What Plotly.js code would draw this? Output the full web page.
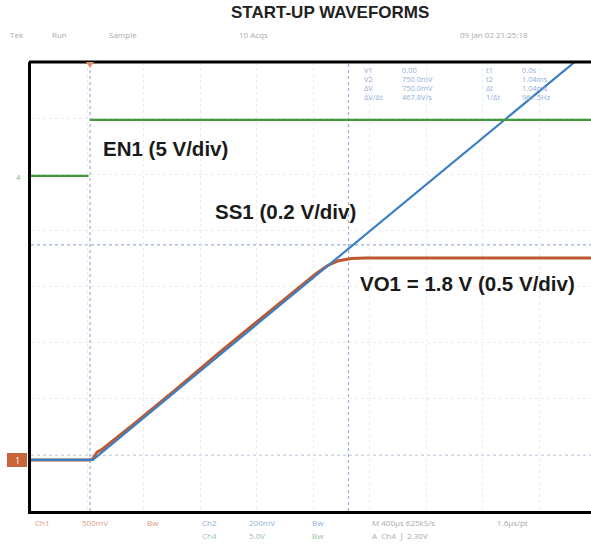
<!DOCTYPE html>
<html>
<head>
<meta charset="utf-8">
<script src="https://cdn.plot.ly/plotly-3.0.1.min.js"></script>
<style>
html,body{margin:0;padding:0;background:#fff;}
#chart{width:591px;height:550px;}
</style>
</head>
<body>
<div id="chart"></div>
<script>
// ---- Data (time in ms, values in volts) ----
const vo1Time = [-0.418, -0.30, -0.15, 0.00, 0.02, 0.05, 0.08, 0.30, 0.60, 0.90, 1.20, 1.50, 1.60, 1.68, 1.76, 1.85, 1.95, 2.40, 3.00, 3.547];
const vo1Volt = [0.00, 0.00, 0.00, 0.00, 0.01, 0.07, 0.09, 0.31, 0.62, 0.94, 1.25, 1.56, 1.66, 1.73, 1.775, 1.795, 1.80, 1.80, 1.80, 1.80];

const ss1Time = [-0.418, -0.20, 0.02, 1.00, 2.00, 3.00, 3.547];
const ss1Volt = [0.00, 0.00, 0.00, 0.408, 0.823, 1.239, 1.466];

const en1Time = [-0.418, -0.01, null, 0.00, 1.00, 2.00, 3.547];
const en1Volt = [0.00, 0.00, null, 5.00, 5.00, 5.00, 5.00];

const cursorTimes = [0.00, 1.83];      // vertical cursors (ms)
const cursorLevels = [0.766, 0.018];   // horizontal cursors, ch2 volts

const readoutLabels = [["V1","0.00","t1","0.0s"],["V2","750.0mV","t2","1.04ms"],["ΔV","750.0mV","Δt","1.04ms"],["ΔV/Δt","467.8V/s","1/Δt","961.5Hz"]];

// ---- Layout geometry (pixels) ----
const W = 591, H = 550, L = 31, R = 591, T = 62, B = 511;
const px = x => (x - L) / (R - L);
const py = y => (B - y) / (B - T);

const cOrange = '#c0582e', cBlue = '#3b7fc4', cGreen = '#3f9a3a';

const traces = [
  {x: en1Time, y: en1Volt, yaxis: 'y3', mode: 'lines', line: {color: cGreen, width: 2.2}, connectgaps: false, hoverinfo: 'skip'},
  {x: vo1Time, y: vo1Volt, yaxis: 'y', mode: 'lines', line: {color: cOrange, width: 3}, hoverinfo: 'skip'},
  {x: ss1Time, y: ss1Volt, yaxis: 'y2', mode: 'lines', line: {color: cBlue, width: 2.2}, hoverinfo: 'skip'}
];

const shapes = [];
cursorTimes.forEach(t => shapes.push({type: 'line', xref: 'x', yref: 'paper', x0: t, x1: t, y0: 0, y1: 1, line: {color: '#9bb0d6', width: 1.2, dash: 'dot'}, layer: 'below'}));
cursorLevels.forEach(v => shapes.push({type: 'line', xref: 'paper', yref: 'y2', x0: 0, x1: 1, y0: v, y1: v, line: {color: '#9bb0d6', width: 1.2, dash: 'dot'}, layer: 'below'}));
// frame top
shapes.push({type: 'line', xref: 'paper', yref: 'paper', x0: px(29), x1: 1, y0: 1, y1: 1, line: {color: '#000', width: 3}});
// ch1 ground marker box
shapes.push({type: 'rect', xref: 'paper', yref: 'paper', x0: px(7), x1: px(27), y0: py(467), y1: py(453), fillcolor: '#c8653a', line: {width: 0}});
// trigger marker
shapes.push({type: 'path', xref: 'paper', yref: 'paper', path: `M ${px(86)} ${py(62)} L ${px(94)} ${py(62)} L ${px(90)} ${py(68)} Z`, fillcolor: '#e6906a', line: {width: 0}});

const ann = [];
function txt(x, y, text, opts) {
  ann.push(Object.assign({xref: 'paper', yref: 'paper', x: px(x), y: py(y), text: text, showarrow: false, xanchor: 'left', yanchor: 'middle', font: {family: 'Liberation Sans, Arial, sans-serif', size: 8, color: '#999'}}, opts || {}));
}
// title
txt(330, 13, '<b>START-UP WAVEFORMS</b>', {xanchor: 'center', font: {family: 'Liberation Sans, Arial, sans-serif', size: 17, color: '#222'}});
// channel labels
const lblFont = {family: 'Liberation Sans, Arial, sans-serif', size: 20.5, color: '#1a1a1a'};
txt(101, 148, '<b>EN1 (5 V/div)</b>', {font: lblFont});
txt(213, 212, '<b>SS1 (0.2 V/div)</b>', {font: lblFont});
txt(358, 283, '<b>VO1 = 1.8 V (0.5 V/div)</b>', {font: lblFont});
// header
txt(8, 35, 'Tek', {font: {size: 8, color: '#aaa'}});
txt(50, 35, 'Run', {font: {size: 8, color: '#aaa'}});
txt(107, 35, 'Sample', {font: {size: 8, color: '#aaa'}});
txt(237, 35, '10 Acqs', {font: {size: 8, color: '#aaa'}});
txt(458, 35, '09 Jan 02 21:25:18', {font: {size: 8, color: '#aaa'}});
// readout
const colX = [362, 400, 484, 520];
readoutLabels.forEach((row, i) => {
  row.forEach((s, j) => txt(colX[j], 70 + i * 9, s, {font: {size: 7.5, color: '#8fb0d8'}}));
});
// bottom info
const fB = c => ({size: 8, color: c});
txt(33, 522, 'Ch1', {font: fB('#e09a86')});
txt(80, 522, '500mV', {font: fB('#e09a86')});
txt(145, 522, 'Bw', {font: fB('#e09a86')});
txt(200, 522, 'Ch2', {font: fB('#8fb0d8')});
txt(247, 522, '200mV', {font: fB('#8fb0d8')});
txt(310, 522, 'Bw', {font: fB('#8fb0d8')});
txt(200, 535, 'Ch4', {font: fB('#9cc69a')});
txt(247, 535, '5.0V', {font: fB('#9cc69a')});
txt(310, 535, 'Bw', {font: fB('#9cc69a')});
txt(370, 522, 'M 400µs 625kS/s', {font: fB('#aaa')});
txt(495, 522, '1.6µs/pt', {font: fB('#aaa')});
txt(370, 535, 'A  Ch4  ∫  2.30V', {font: fB('#aaa')});
// markers
txt(17, 460, '1', {xanchor: 'center', font: {size: 9, color: '#fff'}});
txt(18, 176, '4', {xanchor: 'center', font: {size: 8, color: '#7fb87c'}});

const gridStyle = {showgrid: true, gridcolor: '#ececec', griddash: 'dot', gridwidth: 1};

const layout = {
  width: W, height: H,
  margin: {l: L, r: W - R, t: T, b: H - B, pad: 0},
  paper_bgcolor: '#fff', plot_bgcolor: '#fff',
  showlegend: false,
  xaxis: Object.assign({range: [-0.418, 3.547], tick0: -0.018, dtick: 0.4, showticklabels: false, ticks: '', zeroline: false,
    showline: true, linecolor: '#000', linewidth: 3}, gridStyle),
  yaxis: Object.assign({range: [-0.455, 3.545], tick0: 0.045, dtick: 0.5, showticklabels: false, ticks: '', zeroline: false,
    showline: true, linecolor: '#000', linewidth: 3}, gridStyle),
  yaxis2: {range: [-0.182, 1.418], overlaying: 'y', showgrid: false, zeroline: false, showticklabels: false, ticks: ''},
  yaxis3: {range: [-29.85, 10.15], overlaying: 'y', showgrid: false, zeroline: false, showticklabels: false, ticks: ''},
  shapes: shapes,
  annotations: ann
};

Plotly.newPlot('chart', traces, layout, {staticPlot: true, displayModeBar: false});
</script>
</body>
</html>
